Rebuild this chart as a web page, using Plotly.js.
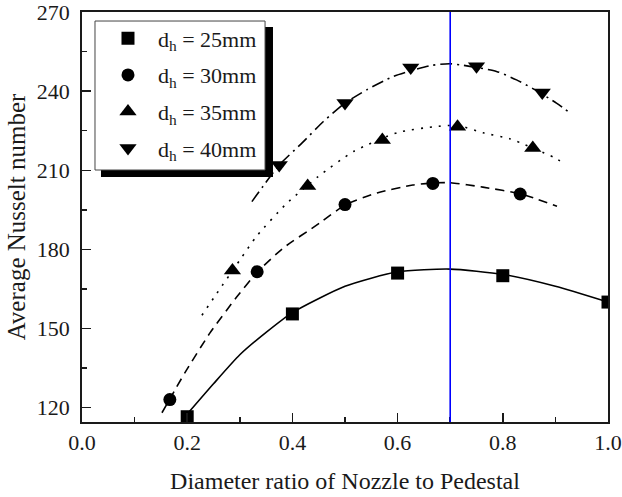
<!DOCTYPE html>
<html>
<head>
<meta charset="utf-8">
<script src="https://cdn.plot.ly/plotly-3.0.1.min.js"></script>
<style>
  html, body { margin: 0; padding: 0; background: #fff; }
  #chart { width: 622px; height: 497px; }
</style>
</head>
<body>
<div id="chart"></div>
<script>
// Measured average Nusselt numbers vs. nozzle/pedestal diameter ratio
const ratio25 = [0.2, 0.4, 0.6, 0.8, 1.0];
const nu25 = [116.5, 155.5, 171, 170, 160];

const ratio30 = [0.167, 0.333, 0.5, 0.667, 0.833];
const nu30 = [123, 171.5, 197, 205, 201];

const ratio35 = [0.286, 0.429, 0.571, 0.714, 0.857];
const nu35 = [172, 204, 221.5, 226.5, 218.5];

const ratio40 = [0.375, 0.5, 0.625, 0.75, 0.875];
const nu40 = [212, 235.5, 249, 249.5, 239.5];

// Fitted trend curves
const fit25X = [0.2, 0.25, 0.3, 0.35, 0.4, 0.5, 0.6, 0.7, 0.8, 0.9, 1.0];
const fit25Y = [117.5, 129, 140, 148.5, 156, 166, 171.5, 172.5, 170.5, 166, 160];

const fit30X = [0.152, 0.196, 0.243, 0.294, 0.333, 0.382, 0.452, 0.5, 0.561, 0.629, 0.667, 0.7, 0.762, 0.835, 0.903];
const fit30Y = [118, 133.3, 148.2, 161.9, 171.3, 180.4, 190, 196.8, 201.4, 204.4, 205.2, 205.3, 203.6, 201, 196.4];

const fit35X = [0.228, 0.256, 0.3, 0.332, 0.389, 0.449, 0.516, 0.6, 0.668, 0.714, 0.763, 0.814, 0.896, 0.915];
const fit35Y = [155, 163.2, 175.9, 185, 197.4, 207.6, 217.1, 224.3, 226.5, 227, 224.2, 221.9, 215, 212.8];

const fit40X = [0.323, 0.348, 0.375, 0.418, 0.459, 0.5, 0.541, 0.592, 0.662, 0.701, 0.788, 0.826, 0.858, 0.902, 0.928];
const fit40Y = [198.1, 205, 212, 220.3, 228.5, 235.5, 240.5, 245.6, 249.7, 250.4, 247.5, 244.3, 240.9, 235.5, 231.7];

// Optimum diameter ratio marker
const optimumRatio = 0.7;

const seriesNames = ['d<sub>h</sub> = 25mm', 'd<sub>h</sub> = 30mm', 'd<sub>h</sub> = 35mm', 'd<sub>h</sub> = 40mm'];

const xTickVals = [0.0, 0.2, 0.4, 0.6, 0.8, 1.0];
const xTickText = ['0.0', '0.2', '0.4', '0.6', '0.8', '1.0'];
const yTickVals = [120, 150, 180, 210, 240, 270];

const FONT = "'Liberation Serif', 'Times New Roman', serif";
const INK = '#1a1a1a';

function curve(x, y, dash) {
  return {
    x: x, y: y, type: 'scatter', mode: 'lines',
    line: { color: '#000', width: 1.6, dash: dash, shape: 'spline', smoothing: 0.6 },
    showlegend: false, hoverinfo: 'skip'
  };
}

function points(x, y, name, symbol, size, group) {
  return {
    x: x, y: y, type: 'scatter', mode: 'markers', name: name,
    legendgroup: group,
    marker: { symbol: symbol, size: size, color: '#000', line: { width: 0 } }
  };
}

const data = [
  curve(fit25X, fit25Y, 'solid'),
  curve(fit30X, fit30Y, '9px,6px'),
  curve(fit35X, fit35Y, '2px,7px'),
  curve(fit40X, fit40Y, '12px,5px,2px,5px'),
  points(ratio25, nu25, seriesNames[0], 'square', 13, 'g1'),
  points(ratio30, nu30, seriesNames[1], 'circle', 13, 'g2'),
  points(ratio35, nu35, seriesNames[2], 'triangle-up', 15, 'g3'),
  points(ratio40, nu40, seriesNames[3], 'triangle-down', 15, 'g4')
];

const axisCommon = {
  showgrid: false, zeroline: false,
  showline: true, linecolor: INK, linewidth: 1.8, mirror: true,
  ticks: 'inside', ticklen: 9, tickwidth: 1.5, tickcolor: INK,
  ticklabeloverflow: 'allow',
  tickfont: { family: FONT, size: 22, color: INK }
};

const layout = {
  width: 622, height: 497,
  margin: { l: 82, r: 14, t: 12, b: 75 },
  paper_bgcolor: '#fff', plot_bgcolor: '#fff',
  font: { family: FONT, color: INK },
  xaxis: Object.assign({}, axisCommon, {
    range: [0, 1],
    tickvals: xTickVals, ticktext: xTickText,
    minor: { dtick: 0.1, tick0: 0, ticks: 'inside', ticklen: 5, tickwidth: 1.5, tickcolor: INK },
    title: { text: 'Diameter ratio of Nozzle to Pedestal', font: { family: FONT, size: 24, color: INK }, standoff: 18 }
  }),
  yaxis: Object.assign({}, axisCommon, {
    range: [114.5, 270.05],
    tickvals: yTickVals,
    ticklabelstandoff: 6,
    minor: { dtick: 15, tick0: 120, ticks: 'inside', ticklen: 5, tickwidth: 1.5, tickcolor: INK },
    title: { text: 'Average Nusselt number', font: { family: FONT, size: 25, color: INK }, standoff: 4 }
  }),
  legend: {
    x: 0.0304, y: 0.9866, xanchor: 'left', yanchor: 'top',
    bgcolor: 'rgba(0,0,0,0)', borderwidth: 0,
    font: { family: FONT, size: 22, color: INK },
    itemwidth: 50, traceorder: 'grouped', tracegroupgap: 5
  },
  shapes: [
    // optimum ratio line
    { type: 'line', xref: 'x', yref: 'paper', x0: optimumRatio, x1: optimumRatio, y0: 0, y1: 1,
      line: { color: '#0000ff', width: 1.6 }, layer: 'above' },
    // legend drop shadow
    { type: 'rect', xref: 'paper', yref: 'paper', x0: 0.0361, x1: 0.3631, y0: 0.5976, y1: 0.9634,
      fillcolor: '#000', line: { width: 0 }, layer: 'above' },
    // legend frame
    { type: 'rect', xref: 'paper', yref: 'paper', x0: 0.0247, x1: 0.348, y0: 0.6146, y1: 0.978,
      fillcolor: '#fff', line: { color: '#444', width: 1 }, layer: 'above' }
  ]
};

Plotly.newPlot('chart', data, layout, { displayModeBar: false, staticPlot: true });
</script>
</body>
</html>
